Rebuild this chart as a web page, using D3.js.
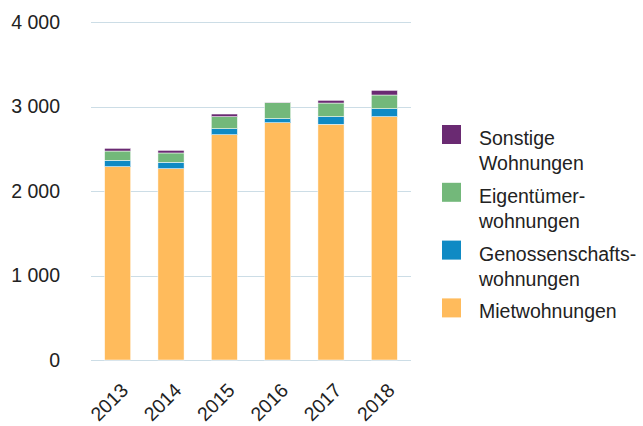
<!DOCTYPE html>
<html>
<head>
<meta charset="utf-8">
<script src="https://cdn.jsdelivr.net/npm/d3@7"></script>
<style>
  body { margin: 0; background: #fff; }
  svg text { font-family: "Liberation Sans", Arial, sans-serif; fill: #222; }
</style>
</head>
<body>
<div id="chart"></div>
<script>
(function() {

var years = ['2013', '2014', '2015', '2016', '2017', '2018'];
var mietwohnungen = [2288, 2264, 2666, 2808, 2789, 2880];
var genossenschaft = [75, 76, 71, 48, 91, 94];
var eigentuemer = [110, 110, 143, 189, 161, 162];
var sonstige = [32, 31, 31, 3, 32, 55];
var yTicks = [0, 1000, 2000, 3000, 4000];

var seriesKeys = ['miet', 'gen', 'eig', 'son'];
var seriesColors = ['#ffbb5c', '#0f8ac4', '#73b87a', '#6a2a72'];
// legend goes top to bottom, reverse of stacking order
var legendItems = [
  { key: 'son', lines: ['Sonstige', 'Wohnungen'] },
  { key: 'eig', lines: ['Eigentümer-', 'wohnungen'] },
  { key: 'gen', lines: ['Genossenschafts-', 'wohnungen'] },
  { key: 'miet', lines: ['Mietwohnungen'] }
];

var width = 643, height = 426;
var margin = { top: 22, left: 91, right: 232, bottom: 66 };
var fontSize = '19.5px';

var rows = years.map(function(y, i) {
  return { year: y, miet: mietwohnungen[i], gen: genossenschaft[i], eig: eigentuemer[i], son: sonstige[i] };
});

var svg = d3.select('#chart').append('svg')
    .attr('width', width)
    .attr('height', height);

var x = d3.scaleBand()
    .domain(years)
    .range([margin.left, width - margin.right])
    .paddingInner(0.51)
    .paddingOuter(0.255);

var y = d3.scaleLinear()
    .domain([0, 4000])
    .range([height - margin.bottom, margin.top]);

var color = d3.scaleOrdinal().domain(seriesKeys).range(seriesColors);

// grid lines
svg.append('g').selectAll('line')
    .data(yTicks)
    .enter().append('line')
    .attr('x1', margin.left)
    .attr('x2', width - margin.right)
    .attr('y1', function(d) { return Math.round(y(d)) + 0.5; })
    .attr('y2', function(d) { return Math.round(y(d)) + 0.5; })
    .attr('stroke', '#ccdde6')
    .attr('stroke-width', 1);

// y labels
svg.append('g').selectAll('text')
    .data(yTicks)
    .enter().append('text')
    .attr('x', 60)
    .attr('y', function(d) { return y(d); })
    .attr('dy', '0.35em')
    .attr('text-anchor', 'end')
    .style('font-size', fontSize)
    .text(function(d) { return d3.format(',')(d).replace(/,/g, ' '); });

var stack = d3.stack().keys(seriesKeys);
var layers = stack(rows);

svg.append('g').selectAll('g')
    .data(layers)
    .enter().append('g')
    .attr('fill', function(d) { return color(d.key); })
    .selectAll('rect')
    .data(function(d) { return d; })
    .enter().append('rect')
    .attr('x', function(d) { return x(d.data.year); })
    .attr('width', x.bandwidth())
    .attr('y', function(d) { return y(d[1]); })
    .attr('height', function(d) { return Math.max(0, y(d[0]) - y(d[1])); })
    .attr('stroke', '#fff')
    .attr('stroke-width', 0.5);

// x labels
svg.append('g').selectAll('text')
    .data(years)
    .enter().append('text')
    .attr('transform', function(d) {
      return 'translate(' + (x(d) + x.bandwidth() / 2 + 2) + ',' + 382 + ') rotate(-45)';
    })
    .attr('text-anchor', 'end')
    .attr('dy', '0.7em')
    .style('font-size', fontSize)
    .text(function(d) { return d; });

// legend
var legend = svg.append('g');
var item = legend.selectAll('g')
    .data(legendItems)
    .enter().append('g')
    .attr('transform', function(d, i) { return 'translate(442,' + (125 + i * 57.8) + ')'; });

item.append('rect')
    .attr('width', 19)
    .attr('height', 19)
    .attr('fill', function(d) { return color(d.key); });

item.append('text')
    .attr('x', 37)
    .attr('y', 20)
    .style('font-size', fontSize)
    .selectAll('tspan')
    .data(function(d) { return d.lines; })
    .enter().append('tspan')
    .attr('x', 37)
    .attr('dy', function(d, i) { return i === 0 ? 0 : 25; })
    .text(function(d) { return d; });

})();
</script>
</body>
</html>
